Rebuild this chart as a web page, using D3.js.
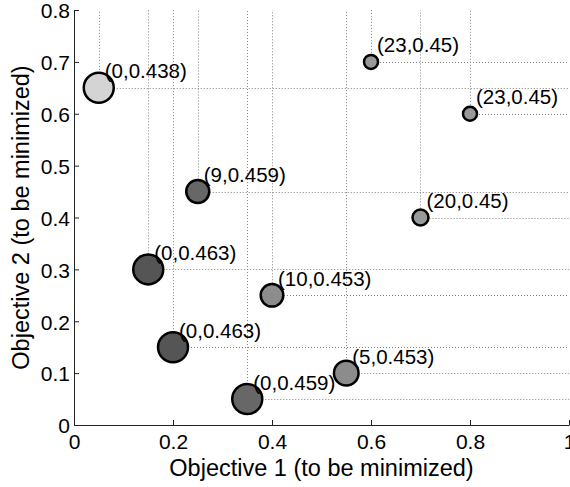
<!DOCTYPE html>
<html>
<head>
<meta charset="utf-8">
<script src="https://cdn.jsdelivr.net/npm/d3@7"></script>
<style>
body { margin: 0; background: #fff; }
text { font-family: "Liberation Sans", Arial, sans-serif; fill: #000; }
</style>
</head>
<body>
<svg id="chart"></svg>
<script>
// objective values of each solution
const obj1 = [0.05, 0.25, 0.15, 0.2, 0.35, 0.4, 0.55, 0.6, 0.8, 0.7]
const obj2 = [0.65, 0.45, 0.3, 0.15, 0.05, 0.25, 0.1, 0.7, 0.6, 0.4]
// numbers shown next to each point
const countVals = [0, 9, 0, 0, 0, 10, 5, 23, 23, 20]
const scoreVals = [0.438, 0.459, 0.463, 0.463, 0.459, 0.453, 0.453, 0.45, 0.45, 0.45]
const xTicks = [0, 0.2, 0.4, 0.6, 0.8, 1]
const yTicks = [0, 0.1, 0.2, 0.3, 0.4, 0.5, 0.6, 0.7, 0.8]

const width = 570, height = 487
const margin = {top: 10, right: 1, bottom: 62, left: 74}

const svg = d3.select("#chart")
    .attr("width", width)
    .attr("height", height)

const x = d3.scaleLinear().domain([0, 1]).range([margin.left, width - margin.right])
const y = d3.scaleLinear().domain([0, 0.8]).range([height - margin.bottom, margin.top])

// marker size follows the first number, grey level the second
const r = d3.scaleLinear().domain([0, 5, 10, 23]).range([15, 12.3, 11.3, 7])
const shade = d3.scaleLinear()
    .domain([0.438, 0.45, 0.453, 0.459, 0.463])
    .range(["#d4d4d4", "#999999", "#8c8c8c", "#676767", "#555555"])

const pts = obj1.map((d, i) => ({x: d, y: obj2[i], a: countVals[i], b: scoreVals[i]}))

// dotted guides from each point up and to the right
const guides = svg.append("g")
    .attr("stroke", "#808080")
    .attr("stroke-width", 1)
    .attr("stroke-dasharray", "1,2")

guides.selectAll(".vguide")
    .data(pts)
    .enter().append("line")
    .attr("class", "vguide")
    .attr("x1", d => Math.round(x(d.x)) + 0.5)
    .attr("x2", d => Math.round(x(d.x)) + 0.5)
    .attr("y1", d => y(d.y))
    .attr("y2", y(0.8))

guides.selectAll(".hguide")
    .data(pts)
    .enter().append("line")
    .attr("class", "hguide")
    .attr("y1", d => Math.round(y(d.y)) + 0.5)
    .attr("y2", d => Math.round(y(d.y)) + 0.5)
    .attr("x1", d => x(d.x))
    .attr("x2", x(1))

// axes, ticks pointing inward
const xAxis = svg.append("g")
    .attr("transform", `translate(0,${y(0)})`)
    .call(d3.axisBottom(x).tickValues(xTicks).tickSizeInner(-5).tickSizeOuter(0).tickPadding(5).tickFormat(d3.format("")))

const yAxis = svg.append("g")
    .attr("transform", `translate(${x(0)},0)`)
    .call(d3.axisLeft(y).tickValues(yTicks).tickSizeInner(-5).tickSizeOuter(0).tickPadding(4).tickFormat(d3.format("")))

svg.selectAll(".domain, .tick line").attr("stroke", "#222")
svg.selectAll(".tick text").attr("font-size", 21).attr("font-family", "Liberation Sans, Arial, sans-serif").attr("fill", "#000")
xAxis.selectAll(".tick text").attr("dy", "0.9em")
yAxis.selectAll(".tick text").attr("dy", "0.37em")

// points
svg.append("g").selectAll("circle")
    .data(pts)
    .enter().append("circle")
    .attr("cx", d => x(d.x))
    .attr("cy", d => y(d.y))
    .attr("r", d => r(d.a))
    .attr("fill", d => shade(d.b))
    .attr("stroke", "#000")
    .attr("stroke-width", 2.5)

svg.append("g").selectAll("text")
    .data(pts)
    .enter().append("text")
    .attr("x", d => x(d.x) + 6)
    .attr("y", d => y(d.y) - 9.5)
    .attr("font-size", 20.5)
    .text(d => `(${d.a},${d.b})`)

// axis titles
svg.append("text")
    .attr("x", (x(0) + x(1)) / 2)
    .attr("y", 476)
    .attr("text-anchor", "middle")
    .attr("font-size", 23.5)
    .text("Objective 1 (to be minimized)")

svg.append("text")
    .attr("transform", `translate(29,${(y(0) + y(0.8)) / 2}) rotate(-90)`)
    .attr("text-anchor", "middle")
    .attr("font-size", 23.5)
    .text("Objective 2 (to be minimized)")
</script>
</body>
</html>
